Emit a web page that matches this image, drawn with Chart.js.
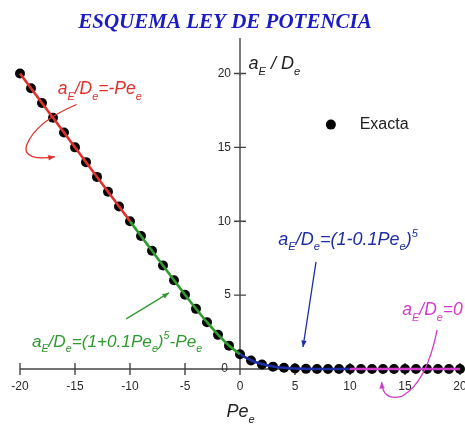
<!DOCTYPE html>
<html>
<head>
<meta charset="utf-8">
<script src="https://cdn.jsdelivr.net/npm/chart.js@4.4.1/dist/chart.umd.min.js"></script>
<style>
  html, body { margin: 0; padding: 0; background: #fff; }
  #wrap { width: 465px; height: 428px; }
</style>
</head>
<body>
<div id="wrap"><canvas id="chart" width="465" height="428"></canvas></div>
<script>
// Peclet numbers where the exact solution is marked
const peValues = [-20, -19, -18, -17, -16, -15, -14, -13, -12, -11, -10,
  -9, -8, -7, -6, -5, -4, -3, -2, -1, 0,
  1, 2, 3, 4, 5, 6, 7, 8, 9, 10,
  11, 12, 13, 14, 15, 16, 17, 18, 19, 20];
// aE/De, exact solution (black dots)
const exacta = [20, 19, 18, 17, 16, 15, 14, 13, 12, 11, 10,
  9.0, 8.0, 7.0, 6.01, 5.03, 4.07, 3.16, 2.31, 1.58, 1.0,
  0.58, 0.31, 0.16, 0.08, 0.03, 0.01, 0, 0, 0, 0,
  0, 0, 0, 0, 0, 0, 0, 0, 0, 0];

// power-law scheme, one piece per range
const peRed = [-20, -19, -18, -17, -16, -15, -14, -13, -12, -11, -10];
const redLine = [20, 19, 18, 17, 16, 15, 14, 13, 12, 11, 10];
const peGreen = [-10, -9, -8, -7, -6, -5, -4, -3, -2, -1, 0];
const greenLine = [10, 9.0, 8.0, 7.0, 6.01, 5.03, 4.08, 3.17, 2.33, 1.59, 1.0];
const peBlue = [0, 1, 2, 3, 4, 5, 6, 7, 8, 9, 10];
const blueLine = [1.0, 0.59, 0.33, 0.17, 0.08, 0.03, 0.01, 0, 0, 0, 0];
const peMagenta = [10, 11, 12, 13, 14, 15, 16, 17, 18, 19, 20];
const magentaLine = [0, 0, 0, 0, 0, 0, 0, 0, 0, 0, 0];

const xTicks = [-20, -15, -10, -5, 0, 5, 10, 15, 20];
const yTicks = [0, 5, 10, 15, 20];

const SANS = '"Liberation Sans", Arial, sans-serif';
const RED = '#e0302c';
const GREEN = '#2f9a2f';
const BLUE = '#1f2ea6';
const MAGENTA = '#d13ccb';

const pts = (xs, ys) => xs.map((x, i) => ({ x, y: ys[i] }));

function lineSet(label, xs, ys, color) {
  return {
    type: 'line',
    label,
    data: pts(xs, ys),
    borderColor: color,
    borderWidth: 2.6,
    pointRadius: 0,
    fill: false,
    cubicInterpolationMode: 'monotone',
    clip: false,
    order: 1,
  };
}

// draws "a_E/D_e=..." style text, parts are [text, 'n'|'sub'|'sup']
function richText(ctx, parts, x, y, size, color) {
  ctx.fillStyle = color;
  ctx.textAlign = 'left';
  ctx.textBaseline = 'alphabetic';
  parts.forEach(([t, kind]) => {
    let fs = size, dy = 0;
    if (kind === 'sub') { fs = size * 0.62; dy = size * 0.32; }
    if (kind === 'sup') { fs = size * 0.62; dy = -size * 0.45; }
    ctx.font = `italic ${fs}px ${SANS}`;
    ctx.fillText(t, x, y + dy);
    x += ctx.measureText(t).width;
  });
}

function arrowHead(ctx, from, to, color, size) {
  const a = Math.atan2(to[1] - from[1], to[0] - from[0]);
  ctx.fillStyle = color;
  ctx.beginPath();
  ctx.moveTo(to[0], to[1]);
  ctx.lineTo(to[0] - size * Math.cos(a - 0.4), to[1] - size * Math.sin(a - 0.4));
  ctx.lineTo(to[0] - size * Math.cos(a + 0.4), to[1] - size * Math.sin(a + 0.4));
  ctx.closePath();
  ctx.fill();
}

const centeredAxes = {
  id: 'centeredAxes',
  beforeDatasetsDraw(chart) {
    const { ctx, scales: { x, y } } = chart;
    const x0 = x.getPixelForValue(0);
    const y0 = y.getPixelForValue(0);
    ctx.save();
    ctx.strokeStyle = '#444';
    ctx.lineWidth = 1.4;
    ctx.beginPath();
    ctx.moveTo(x.getPixelForValue(-20), y0);
    ctx.lineTo(x.getPixelForValue(20), y0);
    ctx.moveTo(x0, y.getPixelForValue(y.max));
    ctx.lineTo(x0, y0 + 6);
    xTicks.forEach(v => {
      const px = x.getPixelForValue(v);
      ctx.moveTo(px, y0 - 6);
      ctx.lineTo(px, y0 + 6);
    });
    yTicks.forEach(v => {
      if (v === 0) return;
      const py = y.getPixelForValue(v);
      ctx.moveTo(x0 - 6, py);
      ctx.lineTo(x0 + 6, py);
    });
    ctx.stroke();

    ctx.fillStyle = '#2a2a2a';
    ctx.font = `12px ${SANS}`;
    ctx.textAlign = 'center';
    ctx.textBaseline = 'middle';
    xTicks.forEach(v => {
      ctx.fillText(String(v), x.getPixelForValue(v), y0 + 18);
    });
    ctx.textAlign = 'right';
    yTicks.forEach(v => {
      const off = v === 0 ? 12 : 9;
      ctx.fillText(String(v), x0 - off, y.getPixelForValue(v));
    });
    ctx.restore();
  },
};

const notes = {
  id: 'notes',
  afterDatasetsDraw(chart) {
    const { ctx, scales: { x, y } } = chart;
    const P = (a, b) => [x.getPixelForValue(a), y.getPixelForValue(b)];
    ctx.save();

    // title
    ctx.fillStyle = '#1b1bc4';
    ctx.font = `italic bold 21px "Liberation Serif", "Times New Roman", serif`;
    ctx.textAlign = 'center';
    ctx.textBaseline = 'alphabetic';
    ctx.fillText('ESQUEMA LEY DE POTENCIA', 225, 28);

    // axis titles
    let p = P(0.77, 20.27);
    richText(ctx, [['a', 'n'], ['E', 'sub'], [' / D', 'n'], ['e', 'sub']], p[0], p[1], 18, '#222');
    p = P(-1.22, -3.25);
    richText(ctx, [['Pe', 'n'], ['e', 'sub']], p[0], p[1], 18, '#222');

    // legend
    p = P(8.26, 16.54);
    ctx.fillStyle = '#000';
    ctx.beginPath();
    ctx.arc(p[0], p[1], 5, 0, Math.PI * 2);
    ctx.fill();
    ctx.fillStyle = '#222';
    ctx.font = `16px ${SANS}`;
    ctx.textBaseline = 'middle';
    ctx.fillText('Exacta', P(10.88, 0)[0], p[1]);

    // red note
    p = P(-16.57, 18.58);
    richText(ctx, [['a', 'n'], ['E', 'sub'], ['/D', 'n'], ['e', 'sub'], ['=-Pe', 'n'], ['e', 'sub']], p[0], p[1], 17.5, RED);
    ctx.lineWidth = 1.3;
    ctx.strokeStyle = RED;
    let a = P(-14.85, 17.9), c1 = P(-16.39, 17.42), c2 = P(-18.65, 16.54), b = P(-19.37, 15.19);
    let c3 = P(-19.82, 14.31), c4 = P(-18.37, 14.17), e = P(-16.84, 14.37);
    ctx.beginPath();
    ctx.moveTo(...a);
    ctx.bezierCurveTo(...c1, ...c2, ...b);
    ctx.bezierCurveTo(...c3, ...c4, ...e);
    ctx.stroke();
    arrowHead(ctx, c4, e, RED, 7);

    // green note
    p = P(-18.92, 1.49);
    richText(ctx, [['a', 'n'], ['E', 'sub'], ['/D', 'n'], ['e', 'sub'], ['=(1+0.1Pe', 'n'], ['e', 'sub'],
      [')', 'n'], ['5', 'sup'], ['-Pe', 'n'], ['e', 'sub']], p[0], p[1], 17.2, GREEN);
    ctx.strokeStyle = GREEN;
    a = P(-10.34, 3.39); e = P(-6.46, 5.15);
    ctx.beginPath();
    ctx.moveTo(...a);
    ctx.lineTo(...e);
    ctx.stroke();
    arrowHead(ctx, a, e, GREEN, 7);

    // blue note
    p = P(3.48, 8.41);
    richText(ctx, [['a', 'n'], ['E', 'sub'], ['/D', 'n'], ['e', 'sub'], ['=(1-0.1Pe', 'n'], ['e', 'sub'],
      [')', 'n'], ['5', 'sup']], p[0], p[1], 18, BLUE);
    ctx.strokeStyle = BLUE;
    a = P(6.91, 7.25); e = P(5.73, 1.49);
    ctx.beginPath();
    ctx.moveTo(...a);
    ctx.lineTo(...e);
    ctx.stroke();
    arrowHead(ctx, a, e, BLUE, 7);

    // magenta note
    p = P(14.76, 3.66);
    richText(ctx, [['a', 'n'], ['E', 'sub'], ['/D', 'n'], ['e', 'sub'], ['=0', 'n']], p[0], p[1], 17.5, MAGENTA);
    ctx.strokeStyle = MAGENTA;
    a = P(17.92, 2.64); c1 = P(17.47, 0.95); c2 = P(16.57, -1.08); b = P(14.76, -1.83);
    c3 = P(13.59, -2.10); c4 = P(12.96, -1.76); e = P(12.87, -0.88);
    ctx.beginPath();
    ctx.moveTo(...a);
    ctx.bezierCurveTo(...c1, ...c2, ...b);
    ctx.bezierCurveTo(...c3, ...c4, ...e);
    ctx.stroke();
    arrowHead(ctx, c4, e, MAGENTA, 7);

    ctx.restore();
  },
};

new Chart(document.getElementById('chart'), {
  type: 'scatter',
  data: {
    datasets: [
      lineSet('Pe rojo', peRed, redLine, RED),
      lineSet('Pe verde', peGreen, greenLine, GREEN),
      lineSet('Pe azul', peBlue, blueLine, BLUE),
      lineSet('Pe magenta', peMagenta, magentaLine, MAGENTA),
      {
        label: 'Exacta',
        data: pts(peValues, exacta),
        pointRadius: 5,
        pointBackgroundColor: '#050505',
        pointBorderColor: '#050505',
        pointBorderWidth: 0,
        clip: false,
        order: 2,
      },
    ],
  },
  options: {
    responsive: false,
    animation: false,
    layout: { padding: { left: 20, right: 2, top: 38, bottom: 59 } },
    plugins: {
      legend: { display: false },
      tooltip: { enabled: false },
      title: { display: false },
    },
    scales: {
      x: { type: 'linear', min: -20, max: 20, display: false },
      y: { type: 'linear', min: 0, max: 22.4, display: false },
    },
  },
  plugins: [centeredAxes, notes],
});
</script>
</body>
</html>
